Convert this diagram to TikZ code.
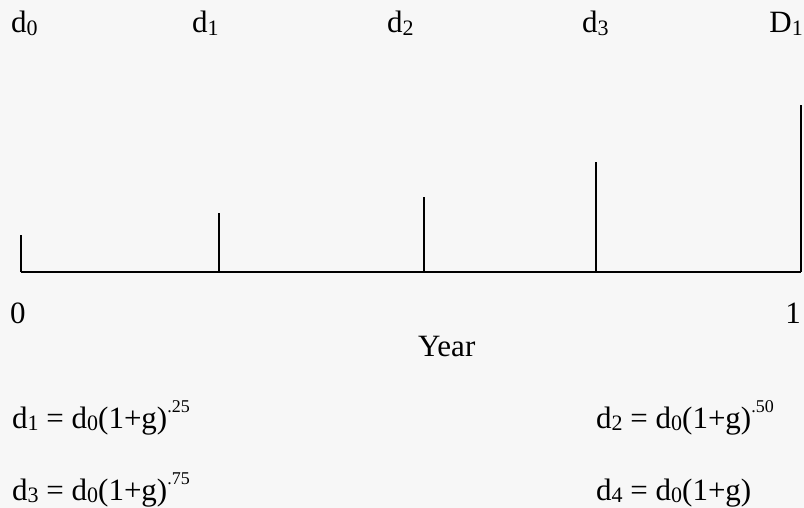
\documentclass[tikz,border=0pt]{standalone}
\usepackage{fontspec}
\setmainfont{Liberation Serif}
\definecolor{bg}{RGB}{247,247,247}
\newcommand\dsub[1]{\raisebox{-0.15ex}{\fontsize{22}{22}\selectfont #1}}
\newcommand\dsup[1]{\raisebox{1.1ex}{\fontsize{18}{18}\selectfont #1}}
\begin{document}
\begin{tikzpicture}[x=1pt,y=-1pt,
  lbl/.style={inner sep=0, anchor=base west, font=\fontsize{31}{33}\selectfont},
  spike/.style={line width=2.8pt, black}]
\fill[bg] (0,0) rectangle (804,508);
\useasboundingbox (0,0) rectangle (804,508);
% top labels
\node[lbl] (l0) at (11,33) {d\dsub{0}};
\node[lbl] (l1) at (192,33) {d\dsub{1}};
\node[lbl] (l2) at (387,33) {d\dsub{2}};
\node[lbl] (l3) at (582,33) {d\dsub{3}};
\node[lbl, anchor=base east] (l4) at (803,33) {D\dsub{1}};
% spikes
\coordinate (b0) at (21,272); \coordinate (t0) at (21,235);
\coordinate (b1) at (219,272); \coordinate (t1) at (219,213);
\coordinate (b2) at (424,272); \coordinate (t2) at (424,197);
\coordinate (b3) at (596,272); \coordinate (t3) at (596,162);
\coordinate (b4) at (801,272); \coordinate (t4) at (801,105);
\draw[spike] (b0) -- (b4);
\foreach \i in {0,...,4} {\draw[spike] (b\i) -- (t\i);}
% axis labels
\node[lbl] (zero) at (10,323) {0};
\node[lbl, anchor=base east] (one) at (801,323) {1};
\node[lbl] (year) at (418,356) {Year};
% formulas
\node[lbl] (f1) at (12,428) {d\dsub{1} = d\dsub{0}(1+g)\dsup{.25}};
\node[lbl] (f2) at (596,428) {d\dsub{2} = d\dsub{0}(1+g)\dsup{.50}};
\node[lbl] (f3) at (12,500) {d\dsub{3} = d\dsub{0}(1+g)\dsup{.75}};
\node[lbl] (f4) at (596,500) {d\dsub{4} = d\dsub{0}(1+g)};
\end{tikzpicture}
\end{document}
